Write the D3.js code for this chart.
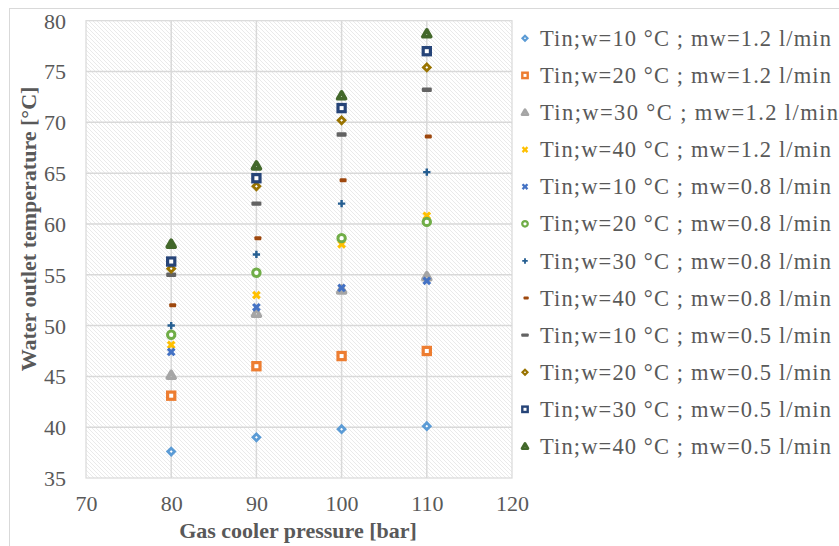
<!DOCTYPE html>
<html>
<head>
<meta charset="utf-8">
<script src="https://cdn.jsdelivr.net/npm/d3@7"></script>
<style>
  body { margin: 0; background: #fff; }
  text { font-family: "Liberation Serif", "Times New Roman", serif; fill: #595959; }
</style>
</head>
<body>
<div id="chart"></div>
<script>
// data
var pressures = [80, 90, 100, 110];
var seriesNames = [
  'Tin;w=10 °C ; mw=1.2 l/min',
  'Tin;w=20 °C ; mw=1.2 l/min',
  'Tin;w=30 °C ;  mw=1.2 l/min',
  'Tin;w=40 °C ; mw=1.2 l/min',
  'Tin;w=10 °C ; mw=0.8 l/min',
  'Tin;w=20 °C ; mw=0.8 l/min',
  'Tin;w=30 °C ; mw=0.8 l/min',
  'Tin;w=40 °C ; mw=0.8 l/min',
  'Tin;w=10 °C ; mw=0.5 l/min',
  'Tin;w=20 °C ; mw=0.5 l/min',
  'Tin;w=30 °C ; mw=0.5 l/min',
  'Tin;w=40 °C ; mw=0.5 l/min'
];
var t10_12 = [37.6, 39.0, 39.8, 40.1];
var t20_12 = [43.1, 46.0, 47.0, 47.5];
var t30_12 = [45.1, 51.2, 53.5, 54.8];
var t40_12 = [48.1, 53.0, 58.0, 60.8];
var t10_08 = [47.4, 51.8, 53.7, 54.4];
var t20_08 = [49.1, 55.2, 58.6, 60.2];
var t30_08 = [50.0, 57.0, 62.0, 65.1];
var t40_08 = [52.0, 58.6, 64.3, 68.6];
var t10_05 = [55.0, 62.0, 68.8, 73.2];
var t20_05 = [55.6, 63.7, 70.2, 75.4];
var t30_05 = [56.3, 64.5, 71.4, 77.0];
var t40_05 = [58.0, 65.7, 72.6, 78.7];
var seriesValues = [t10_12, t20_12, t30_12, t40_12, t10_08, t20_08,
                    t30_08, t40_08, t10_05, t20_05, t30_05, t40_05];
var xTicks = [70, 80, 90, 100, 110, 120];
var yTicks = [35, 40, 45, 50, 55, 60, 65, 70, 75, 80];

// marker styles (Excel default palette)
var markers = [
  { shape: 'diamond',  color: '#5b9bd5' },
  { shape: 'square',   color: '#ed7d31' },
  { shape: 'triangle', color: '#a5a5a5' },
  { shape: 'x',        color: '#ffc000' },
  { shape: 'x',        color: '#4472c4' },
  { shape: 'circle',   color: '#70ad47' },
  { shape: 'plus',     color: '#255e91' },
  { shape: 'shortdash',color: '#9e480e' },
  { shape: 'dash',     color: '#636363' },
  { shape: 'diamond',  color: '#997300' },
  { shape: 'square',   color: '#264478' },
  { shape: 'triangle', color: '#43682b' }
];

var width = 839, height = 546;
var svg = d3.select('#chart').append('svg')
            .attr('width', width).attr('height', height);

svg.append('rect').attr('width', width).attr('height', height).attr('fill', '#fff');
// chart frame
svg.append('rect').attr('x', 9.5).attr('y', 8.5).attr('width', 900).attr('height', 600)
   .attr('fill', 'none').attr('stroke', '#d9d9d9').attr('stroke-width', 1);

var defs = svg.append('defs');
var pat = defs.append('pattern').attr('id', 'hatch')
              .attr('patternUnits', 'userSpaceOnUse')
              .attr('width', 4).attr('height', 4);
pat.append('rect').attr('width', 4).attr('height', 4).attr('fill', '#fff');
pat.append('path').attr('d', 'M0,0L4,4M-1,3L1,5M3,-1L5,1')
   .attr('stroke', '#e4e4e4').attr('stroke-width', 0.8);

var x = d3.scaleLinear().domain([70, 120]).range([86, 512]);
var y = d3.scaleLinear().domain([35, 80]).range([478, 20.7]);

// plot area
svg.append('rect')
   .attr('x', x(70)).attr('y', y(80))
   .attr('width', x(120) - x(70)).attr('height', y(35) - y(80))
   .attr('fill', 'url(#hatch)').attr('stroke', '#d9d9d9').attr('stroke-width', 1.2);

var grid = svg.append('g');
grid.selectAll('.gy').data(yTicks.slice(1, -1)).enter().append('line')
    .attr('x1', x(70)).attr('x2', x(120))
    .attr('y1', function(d) { return y(d); }).attr('y2', function(d) { return y(d); })
    .attr('stroke', '#d9d9d9').attr('stroke-width', 1.5);
grid.selectAll('.gx').data(xTicks.slice(1, -1)).enter().append('line')
    .attr('y1', y(35)).attr('y2', y(80))
    .attr('x1', function(d) { return x(d); }).attr('x2', function(d) { return x(d); })
    .attr('stroke', '#d9d9d9').attr('stroke-width', 1.5);

// axes (labels only, like Excel without tick marks)
var yAxis = svg.append('g').attr('transform', 'translate(' + x(70) + ',0)')
   .call(d3.axisLeft(y).tickValues(yTicks).tickSize(0).tickPadding(20));
yAxis.select('.domain').remove();
yAxis.selectAll('text').attr('font-size', 22).attr('fill', '#595959')
     .style('font-family', '"Liberation Serif", serif').attr('dy', '0.34em');

var xAxis = svg.append('g').attr('transform', 'translate(0,' + y(35) + ')')
   .call(d3.axisBottom(x).tickValues(xTicks).tickSize(0).tickPadding(17));
xAxis.select('.domain').remove();
xAxis.selectAll('text').attr('font-size', 22).attr('fill', '#595959')
     .style('font-family', '"Liberation Serif", serif');

// axis titles
svg.append('text').attr('x', 298).attr('y', 538).attr('text-anchor', 'middle')
   .attr('font-size', 22).attr('font-weight', 'bold')
   .text('Gas cooler pressure [bar]');
svg.append('text').attr('transform', 'translate(36,229) rotate(-90)')
   .attr('text-anchor', 'middle').attr('font-size', 22).attr('font-weight', 'bold')
   .text('Water outlet temperature [°C]');

function drawMarker(g, m, s) {
  // s = scale factor (1 for plot, smaller in legend)
  var c = m.color;
  if (m.shape === 'diamond') {
    var r = 3.4 * s;
    g.append('path').attr('d', 'M0,' + (-r) + 'L' + r + ',0L0,' + r + 'L' + (-r) + ',0Z')
     .attr('fill', '#fff').attr('stroke', c).attr('stroke-width', 2.8 * s);
  } else if (m.shape === 'square') {
    g.append('rect').attr('x', -3.6 * s).attr('y', -3.6 * s)
     .attr('width', 7.2 * s).attr('height', 7.2 * s)
     .attr('fill', '#fff').attr('stroke', c).attr('stroke-width', 3.2 * s);
  } else if (m.shape === 'triangle') {
    g.append('path').attr('d', d3.symbol(d3.symbolTriangle, 26 * s * s)())
     .attr('transform', 'translate(0,0.5)').attr('stroke-linejoin', 'round')
     .attr('fill', '#fff').attr('stroke', c).attr('stroke-width', 3.8 * s);
  } else if (m.shape === 'circle') {
    g.append('circle').attr('r', 3.7 * s)
     .attr('fill', '#fff').attr('stroke', c).attr('stroke-width', 3 * s);
  } else if (m.shape === 'x') {
    g.append('path').attr('d', d3.symbol(d3.symbolCross, 48 * s * s)())
     .attr('transform', 'rotate(45)').attr('fill', c);
  } else if (m.shape === 'plus') {
    g.append('path').attr('d', d3.symbol(d3.symbolCross, 30 * s * s)())
     .attr('fill', c);
  } else if (m.shape === 'dash') {
    g.append('rect').attr('x', -5 * s).attr('y', -2.2 * s)
     .attr('width', 10 * s).attr('height', 4.4 * s).attr('rx', 1.2 * s)
     .attr('fill', c);
  } else if (m.shape === 'shortdash') {
    g.append('rect').attr('x', -2 * s).attr('y', -2 * s)
     .attr('width', 7 * s).attr('height', 4 * s).attr('rx', 1.2 * s)
     .attr('fill', c);
  }
}

// points
var plot = svg.append('g');
seriesValues.forEach(function(vals, i) {
  plot.selectAll('.s' + i).data(vals).enter().append('g')
      .attr('class', 's' + i)
      .attr('transform', function(d, j) {
        return 'translate(' + x(pressures[j]) + ',' + y(d) + ')';
      })
      .each(function() { drawMarker(d3.select(this), markers[i], 1); });
});

// legend
var legend = svg.append('g');
seriesNames.forEach(function(name, i) {
  var ly = 38.3 + i * 37.1;
  var row = legend.append('g').attr('transform', 'translate(525,' + ly + ')');
  drawMarker(row, markers[i], 0.75);
  row.append('text').attr('x', 15).attr('dy', '0.34em')
     .attr('font-size', 22.5)
     .attr('textLength', i === 2 ? 298 : 291)
     .text(name);
});
</script>
</body>
</html>
